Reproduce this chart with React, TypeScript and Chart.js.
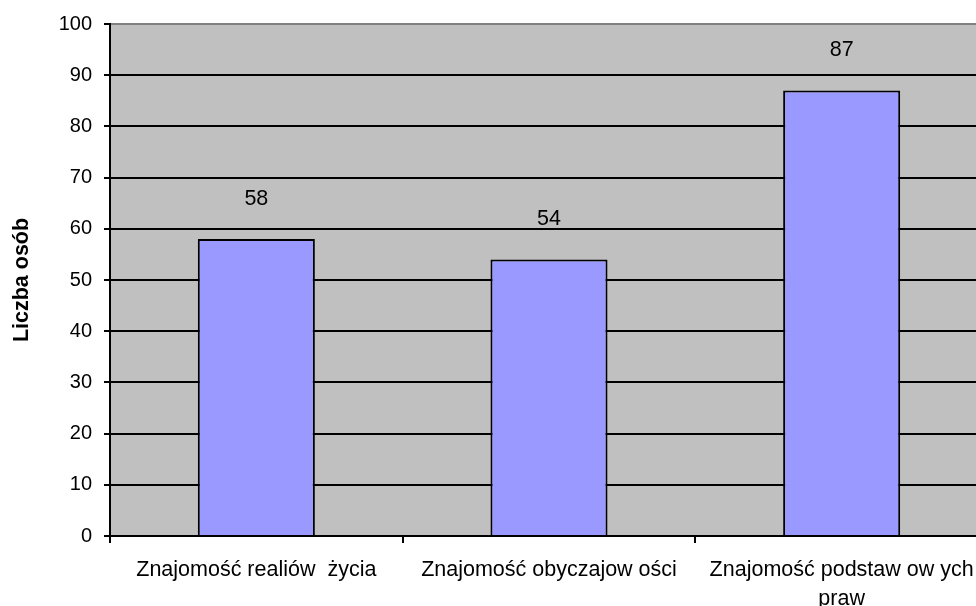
import React, { useEffect, useRef } from "react";
import { Chart, registerables } from "chart.js";

Chart.register(...registerables);

const categories: (string | string[])[] = [
  "Znajomość realiów  życia",
  "Znajomość obyczajow ości",
  ["Znajomość podstaw ow ych", "praw"],
];
const values: number[] = [58, 54, 87];
const yTitle = "Liczba osób";
const yMin = 0;
const yMax = 100;
const yStep = 10;

const FONT = "Arial, 'Liberation Sans', sans-serif";

const valueLabels = {
  id: "valueLabels",
  afterDatasetsDraw(chart: any) {
    const ctx = chart.ctx;
    const meta = chart.getDatasetMeta(0);
    ctx.save();
    ctx.font = `21.5px ${FONT}`;
    ctx.fillStyle = "#000";
    ctx.textAlign = "center";
    ctx.textBaseline = "middle";
    meta.data.forEach((bar: any, i: number) => {
      ctx.fillText(String(values[i]), bar.x, bar.y - 40);
    });
    ctx.restore();
  },
};

const plotBg = {
  id: "plotBg",
  beforeDraw(chart: any) {
    const { ctx, chartArea } = chart;
    ctx.save();
    ctx.fillStyle = "#C0C0C0";
    ctx.fillRect(chartArea.left, chartArea.top, chartArea.right - chartArea.left, chartArea.bottom - chartArea.top);
    ctx.restore();
  },
};

export default function App() {
  const ref = useRef<HTMLCanvasElement | null>(null);
  useEffect(() => {
    document.body.style.margin = "0";
    document.body.style.overflow = "hidden";
    const chart = new Chart(ref.current as HTMLCanvasElement, {
      type: "bar",
      data: {
        labels: categories,
        datasets: [
          {
            data: values,
            backgroundColor: "#9999FF",
            borderColor: "#000000",
            borderWidth: 2,
            barPercentage: 0.4,
            categoryPercentage: 1,
          },
        ],
      },
      options: {
        animation: false,
        responsive: false,
        maintainAspectRatio: false,
        layout: { padding: { top: 23, right: 2, left: 0, bottom: 0 } },
        plugins: { legend: { display: false }, tooltip: { enabled: false } },
        scales: {
          x: {
            grid: {
              offset: true,
              drawOnChartArea: false,
              drawTicks: true,
              tickLength: 7,
              color: "#000",
              lineWidth: 2,
            },
            border: { color: "#000", width: 2 },
            ticks: {
              color: "#000",
              font: { family: FONT, size: 21.5, lineHeight: 1.38 },
              padding: 12,
              maxRotation: 0,
              minRotation: 0,
              autoSkip: false,
            },
            afterFit(scale: any) {
              scale.height = 70;
            },
          },
          y: {
            min: yMin,
            max: yMax,
            grid: {
              color: (c: any) => (c.tick && c.tick.value === yMax ? "#808080" : "#000"),
              lineWidth: 2,
              tickLength: 6,
              tickColor: "#000",
            },
            border: { color: "#000", width: 2 },
            ticks: {
              stepSize: yStep,
              color: "#000",
              font: { family: FONT, size: 20 },
              padding: 12,
            },
            title: {
              display: true,
              text: yTitle,
              color: "#000",
              font: { family: FONT, size: 21.5, weight: "bold" },
              padding: { top: 9, bottom: 0 },
            },
            afterFit(scale: any) {
              scale.width = 110;
            },
          },
        },
      },
      plugins: [plotBg, valueLabels],
    });
    return () => chart.destroy();
  }, []);
  return (
    <div style={{ width: 976, height: 606, overflow: "hidden" }}>
      <canvas ref={ref} width={990} height={606} style={{ display: "block" }} />
    </div>
  );
}
